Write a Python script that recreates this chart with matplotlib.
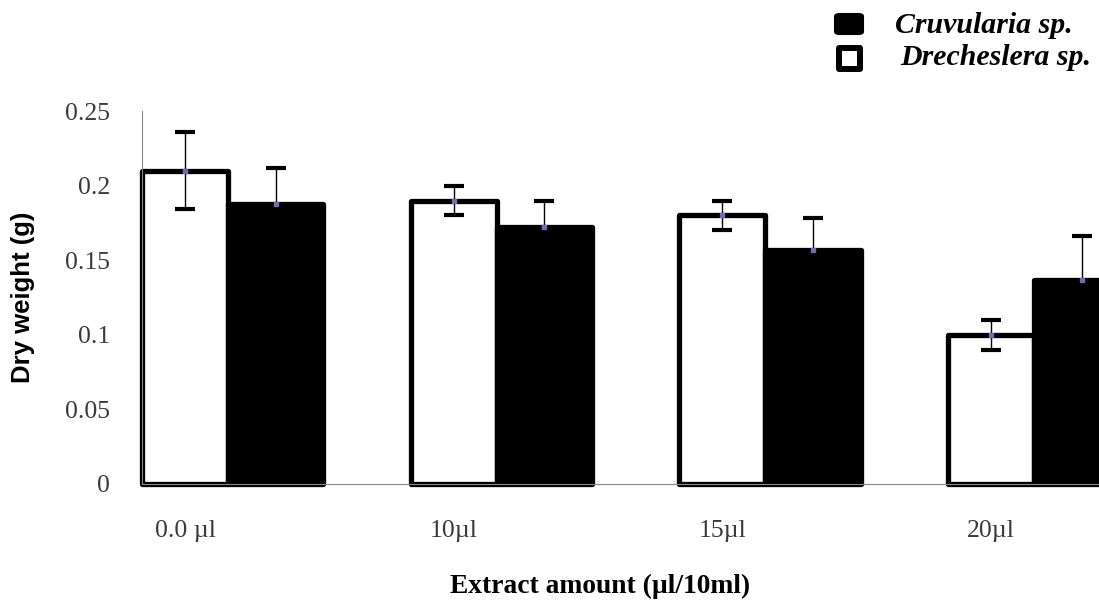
import matplotlib
matplotlib.use("Agg")
import matplotlib.pyplot as plt
from matplotlib.patches import Rectangle, FancyBboxPatch
import numpy as np

categories = ["0.0 µl", "10µl", "15µl", "20µl"]
drecheslera = [0.210, 0.190, 0.180, 0.100]
drecheslera_err = [0.026, 0.010, 0.010, 0.010]
cruvularia = [0.188, 0.172, 0.157, 0.137]
cruvularia_err = [0.024, 0.018, 0.021, 0.029]
yticks = [0, 0.05, 0.1, 0.15, 0.2, 0.25]
ytick_labels = ["0", "0.05", "0.1", "0.15", "0.2", "0.25"]
legend_labels = ["Cruvularia sp.", "Drecheslera sp."]

W, H = 1099, 602
fig = plt.figure(figsize=(W/100, H/100), dpi=100)
ax = fig.add_axes([142/W, 118/H, (W-142)/W, 373/H])

x = np.arange(len(categories))
ww = 0.32   # white bar width (group spacing = 1)
wb = 0.354  # black bar width

ax.bar(x, drecheslera, width=ww, align="edge", color="white", edgecolor="black",
       linewidth=3.8, joinstyle="round", clip_on=False, zorder=2)
ax.bar(x + ww, cruvularia, width=wb, align="edge", color="black", edgecolor="black",
       linewidth=3.8, joinstyle="round", clip_on=False, zorder=2)

for xs, ys, es in [(x + ww/2, drecheslera, drecheslera_err),
                   (x + ww + wb/2, cruvularia, cruvularia_err)]:
    ax.errorbar(xs, ys, yerr=es, fmt="s", ms=2.2, mfc="#7b68b0", mec="#7b68b0",
                ecolor="black", elinewidth=1, capsize=7, capthick=3, zorder=3)

ax.set_ylim(0, 0.25)
ax.set_xlim(0, (W - 142) / 268.7)
ax.set_yticks(yticks)
ax.set_yticklabels(ytick_labels, fontfamily="Liberation Serif", fontsize=18.5, color="#3a3a3a")
ax.set_xticks(x + ww/2)
ax.set_xticklabels(categories, fontfamily="Liberation Serif", fontsize=18.5, color="#3a3a3a")
ax.tick_params(axis="both", length=0)
ax.tick_params(axis="y", pad=23)
ax.tick_params(axis="x", pad=26)

for s in ["top", "right"]:
    ax.spines[s].set_visible(False)
for s in ["left", "bottom"]:
    ax.spines[s].set_color("#888888")
    ax.spines[s].set_linewidth(0.8)

fig.text(23/W, 1 - 297/H, "Dry weight (g)", rotation=90, ha="center", va="center",
         fontfamily="Liberation Sans", fontweight="bold", fontsize=18.5)
fig.text(600/W, 1 - 593/H, "Extract amount (µl/10ml)", ha="center", va="baseline",
         fontfamily="Liberation Serif", fontweight="bold", fontsize=19.8)

# legend (figure pixel coordinates, origin top-left)
def fx(px):
    return px / W

def fy(py):
    return 1 - py / H

fig.patches.append(FancyBboxPatch((fx(835), fy(34)), fx(863) - fx(835), fy(14) - fy(34),
                                  boxstyle="round,pad=0,rounding_size=0.004",
                                  transform=fig.transFigure, facecolor="black",
                                  edgecolor="black", linewidth=1.5, figure=fig))
fig.patches.append(Rectangle((fx(839), fy(69)), fx(860) - fx(839), fy(48) - fy(69),
                             transform=fig.transFigure, facecolor="white",
                             edgecolor="black", linewidth=4.3, joinstyle="round", figure=fig))
legend_font = {"family": "Liberation Serif", "weight": "bold", "style": "italic", "size": 21.5}
fig.text(fx(895), fy(33), legend_labels[0], ha="left", va="baseline", fontdict=legend_font)
fig.text(fx(900), fy(65), legend_labels[1], ha="left", va="baseline", fontdict=legend_font)

fig.savefig("out.png", dpi=100)
